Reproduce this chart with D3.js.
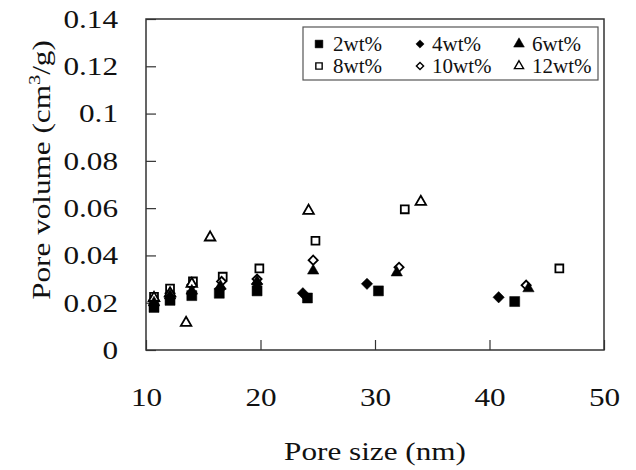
<!DOCTYPE html>
<html>
<head>
<meta charset="utf-8">
<script src="https://cdn.jsdelivr.net/npm/d3@7"></script>
<style>
  body { margin: 0; background: #fff; }
</style>
</head>
<body>
<div id="chart"></div>
<script>
// pore size (nm) and pore volume (cm3/g) per loading
var series = ["2wt%", "4wt%", "6wt%", "8wt%", "10wt%", "12wt%"];

var size2 = [10.7, 12.1, 14.0, 16.4, 19.7, 24.1, 30.3, 42.2];
var vol2  = [0.018, 0.021, 0.023, 0.024, 0.025, 0.022, 0.025, 0.0205];

var size4 = [10.7, 12.1, 14.0, 16.5, 19.7, 23.7, 29.3, 40.8];
var vol4  = [0.019, 0.022, 0.024, 0.026, 0.028, 0.024, 0.028, 0.0223];

var size6 = [10.7, 12.1, 14.0, 16.5, 19.7, 24.6, 31.9, 43.4];
var vol6  = [0.020, 0.023, 0.025, 0.027, 0.029, 0.0335, 0.0327, 0.026];

var size8 = [10.7, 12.1, 14.1, 16.7, 19.9, 24.8, 32.6, 46.1];
var vol8  = [0.0225, 0.026, 0.029, 0.031, 0.0345, 0.0462, 0.0595, 0.0345];

var size10 = [10.7, 12.1, 14.0, 16.6, 19.7, 24.6, 32.1, 43.2];
var vol10  = [0.021, 0.024, 0.0275, 0.029, 0.030, 0.038, 0.035, 0.0274];

var size12 = [10.7, 12.1, 13.5, 14.0, 15.6, 24.2, 34.0];
var vol12  = [0.022, 0.024, 0.0115, 0.028, 0.0476, 0.0589, 0.0627];

var xTicks = [10, 20, 30, 40, 50];
var yTicks = [0, 0.02, 0.04, 0.06, 0.08, 0.1, 0.12, 0.14];
var yTickLabels = ["0", "0.02", "0.04", "0.06", "0.08", "0.1", "0.12", "0.14"];

var width = 636, height = 470;
var margin = {left: 146, right: 32, top: 19, bottom: 120};
var serif = "'Liberation Serif', 'Times New Roman', Times, serif";
var sx = 1.2; // the original lettering is a little wide

var svg = d3.select("#chart").append("svg")
  .attr("width", width)
  .attr("height", height)
  .attr("font-family", serif);

var x = d3.scaleLinear().domain([10, 50]).range([margin.left, width - margin.right]);
var y = d3.scaleLinear().domain([0, 0.14]).range([height - margin.bottom, margin.top]);

// x axis, ticks pointing inward
svg.append("g")
  .attr("transform", "translate(0," + y(0) + ")")
  .call(d3.axisBottom(x).tickValues(xTicks).tickSize(-10).tickPadding(38).tickFormat(d3.format("d")))
  .call(function(g) {
    g.attr("font-family", serif).attr("font-size", 26);
    g.select(".domain").remove();
    g.selectAll("line").attr("stroke", "#333").attr("stroke-width", 1.2);
    g.selectAll("text").attr("fill", "#111").attr("transform", "scale(" + sx + ",1)");
  });

// y axis
svg.append("g")
  .attr("transform", "translate(" + x(10) + ",0)")
  .call(d3.axisLeft(y).tickValues(yTicks).tickSize(-10).tickPadding(27)
    .tickFormat(function(d, i) { return yTickLabels[i]; }))
  .call(function(g) {
    g.attr("font-family", serif).attr("font-size", 26);
    g.select(".domain").remove();
    g.selectAll("line").attr("stroke", "#333").attr("stroke-width", 1.2);
    g.selectAll("text").attr("fill", "#111")
      .attr("x", -28 / sx)
      .attr("transform", "scale(" + sx + ",1)");
  });

// frame
svg.append("rect")
  .attr("x", x(10)).attr("y", y(0.14))
  .attr("width", x(50) - x(10)).attr("height", y(0) - y(0.14))
  .attr("fill", "none").attr("stroke", "#333").attr("stroke-width", 1.5);

// axis titles
svg.append("text")
  .attr("transform", "translate(" + ((x(10) + x(50)) / 2) + ",460) scale(" + sx + ",1)")
  .attr("text-anchor", "middle")
  .attr("font-size", 26)
  .attr("fill", "#111")
  .text("Pore size (nm)");

var yt = svg.append("text")
  .attr("transform", "translate(50,170) rotate(-90) scale(" + sx + ",1)")
  .attr("text-anchor", "middle")
  .attr("font-size", 26)
  .attr("fill", "#111");
yt.append("tspan").text("Pore volume (cm");
yt.append("tspan").attr("dy", "-10").attr("font-size", 17).text("3");
yt.append("tspan").attr("dy", "10").text("/g)");

// marker styles
var styles = [
  {shape: d3.symbolSquare, size: 100, rot: 0, filled: true},
  {shape: d3.symbolSquare, size: 64, rot: 45, filled: true},
  {shape: d3.symbolTriangle, size: 56, rot: 0, filled: true},
  {shape: d3.symbolSquare, size: 62, rot: 0, filled: false},
  {shape: d3.symbolSquare, size: 42, rot: 45, filled: false},
  {shape: d3.symbolTriangle, size: 48, rot: 0, filled: false}
];

var sizes = [size2, size4, size6, size8, size10, size12];
var vols = [vol2, vol4, vol6, vol8, vol10, vol12];

// open markers sit underneath the filled ones
[3, 4, 5, 0, 1, 2].forEach(function(s) {
  var st = styles[s];
  var pts = sizes[s].map(function(v, i) { return {x: v, y: vols[s][i]}; });
  svg.append("g").selectAll("path")
    .data(pts)
    .enter().append("path")
    .attr("d", d3.symbol().type(st.shape).size(st.size))
    .attr("transform", function(d) {
      return "translate(" + x(d.x) + "," + y(d.y) + ") rotate(" + st.rot + ")";
    })
    .attr("fill", st.filled ? "#000" : "#fff")
    .attr("stroke", "#000")
    .attr("stroke-width", st.filled ? 0.5 : 1.8);
});

// legend
var legend = svg.append("g");
legend.append("rect")
  .attr("x", 303).attr("y", 27).attr("width", 295).attr("height", 53)
  .attr("fill", "#fff").attr("stroke", "#555").attr("stroke-width", 1.2);

var legendSizes = [60, 34, 50, 40, 26, 36];
series.forEach(function(name, s) {
  var col = s % 3, row = Math.floor(s / 3);
  var mx = [319, 420, 519][col];
  var tx = [333, 432, 532][col];
  var by = 51 + row * 22;
  var st = styles[s];
  legend.append("path")
    .attr("d", d3.symbol().type(st.shape).size(legendSizes[s]))
    .attr("transform", "translate(" + mx + "," + (by - 7) + ") rotate(" + st.rot + ")")
    .attr("fill", st.filled ? "#000" : "#fff")
    .attr("stroke", "#000")
    .attr("stroke-width", st.filled ? 0.5 : 1.4);
  legend.append("text")
    .attr("x", tx).attr("y", by)
    .attr("font-size", 21)
    .attr("fill", "#111")
    .text(name);
});
</script>
</body>
</html>
